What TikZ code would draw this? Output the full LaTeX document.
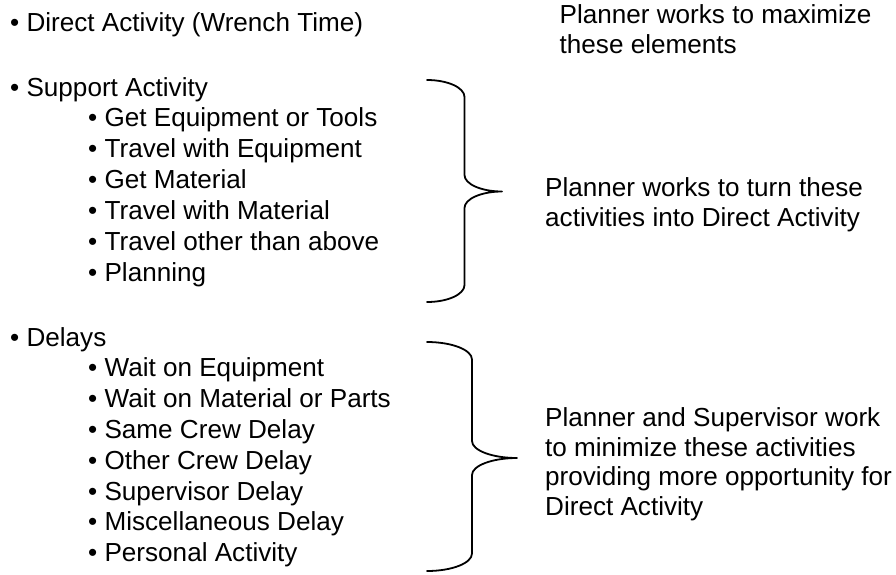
\documentclass[tikz,border=0pt]{standalone}
\usepackage{fontspec}
\setmainfont{Liberation Sans}
\begin{document}
\begin{tikzpicture}[x=1pt,y=1pt,
  txt/.style={font=\fontsize{26.1}{29.5}\selectfont, inner sep=0pt, anchor=base west},
  note/.style={txt, align=left},
  brace/.style={line width=1.8pt, line join=round, line cap=round}]
\useasboundingbox (0,0) rectangle (896,-574);

% left column: activity categories
\node[txt] (direct)  at (10,-31.7) {• Direct Activity (Wrench Time)};
\node[txt] (support) at (10,-96)   {• Support Activity};
\foreach \t [count=\i] in {Get Equipment or Tools,Travel with Equipment,Get Material,Travel with Material,Travel other than above,Planning}
  \node[txt] (sup\i) at (88,{-126.7-31*(\i-1)}) {• \t};
\node[txt] (delays) at (10,-346) {• Delays};
\foreach \t [count=\i] in {Wait on Equipment,Wait on Material or Parts,Same Crew Delay,Other Crew Delay,Supervisor Delay,Miscellaneous Delay,Personal Activity}
  \node[txt] (del\i) at (88,{-376.7-30.83*(\i-1)}) {• \t};

% braces grouping the sub-items
\draw[brace] (427,-80)
  arc[start angle=90,end angle=0,x radius=37.5,y radius=17] -- (464.5,-175)
  arc[start angle=180,end angle=270,x radius=37.5,y radius=16.5]
  arc[start angle=90,end angle=180,x radius=37.5,y radius=16.5] -- (464.5,-285)
  arc[start angle=0,end angle=-90,x radius=37.5,y radius=17];
\draw[brace] (427,-342)
  arc[start angle=90,end angle=0,x radius=45,y radius=17.5] -- (472,-441)
  arc[start angle=180,end angle=270,x radius=45,y radius=17]
  arc[start angle=90,end angle=180,x radius=45,y radius=17] -- (472,-553.5)
  arc[start angle=0,end angle=-90,x radius=45,y radius=17.5];

% right column: planner's role (anchored at the last line's baseline)
\node[note] (goal) at (559.5,-53.3) {Planner works to maximize\\these elements};
\node[note] (turn) at (545,-226) {Planner works to turn these\\activities into Direct Activity};
\node[note] (cut)  at (545,-515) {Planner and Supervisor work\\to minimize these activities\\providing more opportunity for\\Direct Activity};
\end{tikzpicture}
\end{document}
